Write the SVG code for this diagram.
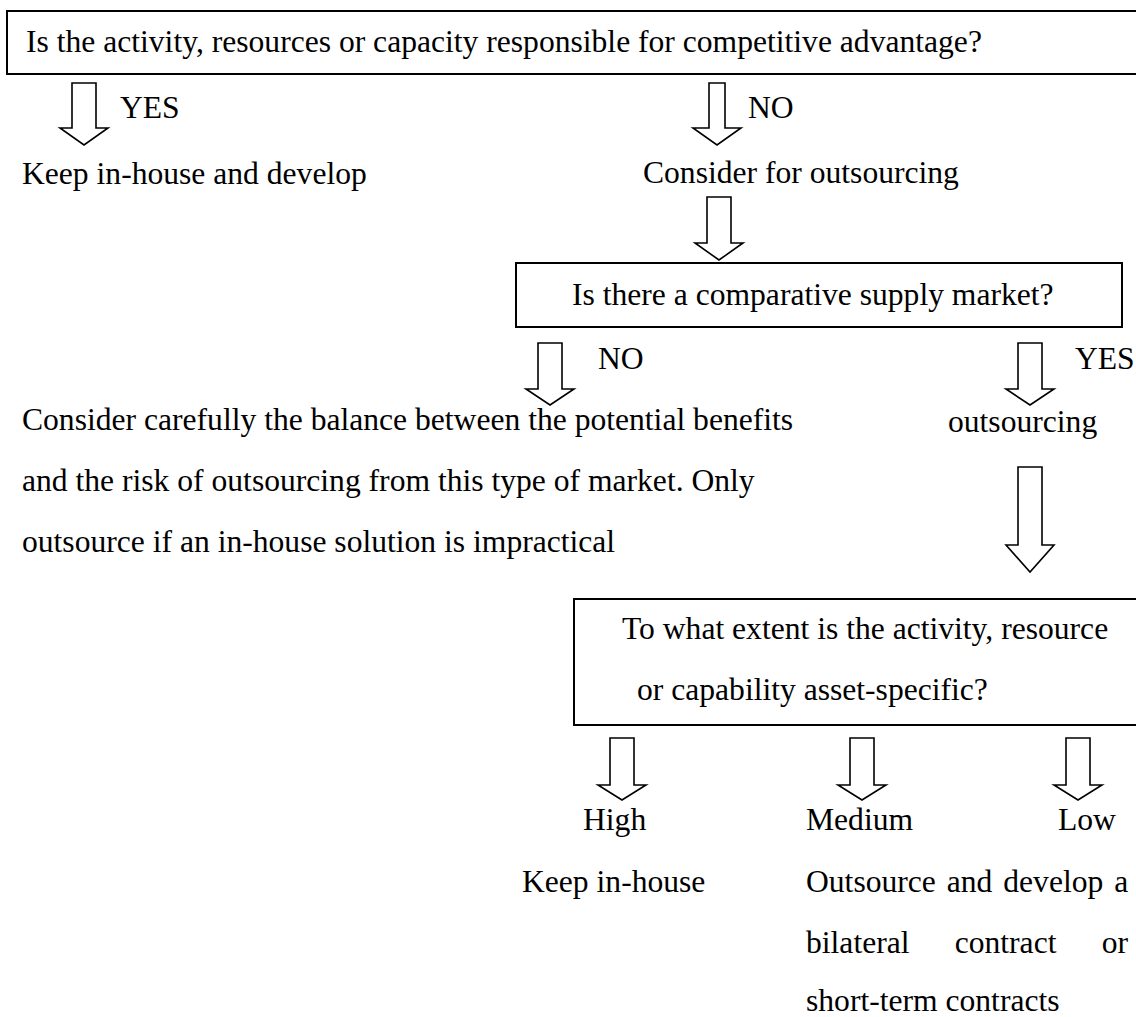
<svg xmlns="http://www.w3.org/2000/svg" width="1136" height="1017" viewBox="0 0 1136 1017">
<style>
  text { font-family: "Liberation Serif", "Times New Roman", serif; font-size: 31.6px; fill: #000; }
  .box { fill: #fff; stroke: #000; stroke-width: 2; }
  .arr { fill: #fff; stroke: #000; stroke-width: 1.6; stroke-linejoin: miter; }
</style>
<rect width="1136" height="1017" fill="#fff"/>

<g id="node-q1">
  <rect class="box" x="7" y="11" width="1140" height="63"/>
  <text x="26" y="52">Is the activity, resources or capacity responsible for competitive advantage?</text>
</g>

<g id="node-keep-develop">
  <text x="22" y="184">Keep in-house and develop</text>
</g>

<g id="node-consider">
  <text x="643" y="183">Consider for outsourcing</text>
</g>

<g id="node-q2">
  <rect class="box" x="516" y="263" width="606" height="64"/>
  <text x="572" y="305" font-size="32.5">Is there a comparative supply market?</text>
</g>

<g id="node-careful">
  <text x="22" y="430">Consider carefully the balance between the potential benefits</text>
  <text x="22" y="491">and the risk of outsourcing from this type of market. Only</text>
  <text x="22" y="552">outsource if an in-house solution is impractical</text>
</g>

<g id="node-outsourcing">
  <text x="948" y="432">outsourcing</text>
</g>

<g id="node-q3">
  <rect class="box" x="574" y="599" width="570" height="126"/>
  <text x="622" y="639">To what extent is the activity, resource</text>
  <text x="637" y="700">or capability asset-specific?</text>
</g>

<g id="node-high">
  <text x="583" y="830">High</text>
  <text x="522" y="892">Keep in-house</text>
</g>

<g id="node-medium">
  <text x="806" y="830">Medium</text>
  <text x="806" y="892" word-spacing="3">Outsource and develop a</text>
  <text x="806" y="953" word-spacing="37.3">bilateral contract or</text>
  <text x="806" y="1011">short-term contracts</text>
</g>

<g id="node-low">
  <text x="1058" y="830">Low</text>
</g>

<g id="connectors">
  <!-- YES (q1 -> keep & develop) -->
  <path class="arr" d="M72,83 V128 H60 L84,145 L108,128 H96 V83 Z"/>
  <text x="120" y="118">YES</text>
  <!-- NO (q1 -> consider) -->
  <path class="arr" d="M709,83 V128 H693 L717,145 L741,128 H725 V83 Z"/>
  <text x="748" y="118">NO</text>
  <!-- consider -> q2 -->
  <path class="arr" d="M707,197 V243 H695 L719,260 L743,243 H731 V197 Z"/>
  <!-- NO (q2 -> careful) -->
  <path class="arr" d="M538,343 V389 H526 L550,405 L574,389 H562 V343 Z"/>
  <text x="598" y="369">NO</text>
  <!-- YES (q2 -> outsourcing) -->
  <path class="arr" d="M1018,343 V389 H1006 L1030,405 L1054,389 H1042 V343 Z"/>
  <text x="1075" y="369">YES</text>
  <!-- outsourcing -> q3 -->
  <path class="arr" d="M1018,467 V545 H1006 L1030,572 L1054,545 H1042 V467 Z"/>
  <!-- q3 -> high / medium / low -->
  <path class="arr" d="M610,738 V785 H598 L622,800 L646,785 H634 V738 Z"/>
  <path class="arr" d="M850,738 V785 H838 L862,800 L886,785 H874 V738 Z"/>
  <path class="arr" d="M1066,738 V785 H1054 L1078,800 L1102,785 H1090 V738 Z"/>
</g>
</svg>
